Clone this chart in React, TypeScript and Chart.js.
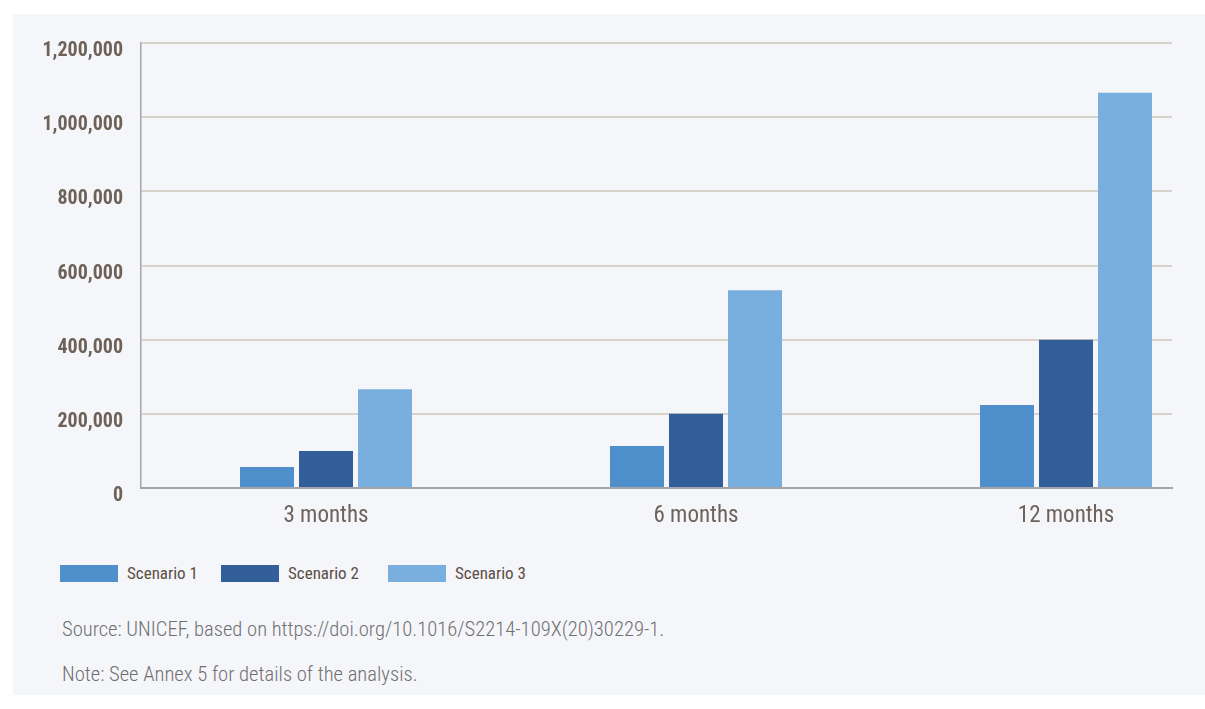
import React, { useEffect, useRef } from "react";
import { Chart, registerables } from "chart.js";

Chart.register(...registerables);

const categories = ["3 months", "6 months", "12 months"];
const seriesNames = ["Scenario 1", "Scenario 2", "Scenario 3"];
const scenario1 = [56500, 113000, 223500];
const scenario2 = [100000, 200000, 400000];
const scenario3 = [266500, 533000, 1066000];
const seriesColors = ["#4f8fcc", "#325f99", "#79afdf"];
const yTicks = [0, 200000, 400000, 600000, 800000, 1000000, 1200000];
const sourceText = "Source: UNICEF, based on https://doi.org/10.1016/S2214-109X(20)30229-1.";
const noteText = "Note: See Annex 5 for details of the analysis.";

const FONT = "'Roboto Condensed', Roboto, sans-serif";
const legendItemWidths = [161, 167, 160];

export default function App() {
  const canvasRef = useRef<HTMLCanvasElement | null>(null);

  useEffect(() => {
    const canvas = canvasRef.current;
    if (!canvas) return;
    const seriesValues = [scenario1, scenario2, scenario3];
    const chart = new Chart(canvas, {
      type: "bar",
      data: {
        datasets: seriesValues.map((vals, si) => ({
          label: seriesNames[si],
          data: vals.map((v, i) => ({ x: i, y: v })),
          backgroundColor: seriesColors[si],
          borderWidth: 0,
          categoryPercentage: 0.4784,
          barPercentage: 0.9153,
        })),
      },
      options: {
        responsive: false,
        maintainAspectRatio: false,
        animation: false,
        events: [],
        layout: { padding: { left: 0, right: 33, top: 43, bottom: 12 } },
        plugins: { legend: { display: false }, tooltip: { enabled: false } },
        scales: {
          x: {
            type: "linear",
            offset: false,
            min: -0.5,
            max: -0.5 + 1031 / 370,
            afterBuildTicks: (s: any) => {
              s.ticks = categories.map((_, i) => ({ value: i }));
            },
            afterFit: (s: any) => {
              s.height = 40;
            },
            grid: { display: false, drawTicks: false, offset: false },
            border: { display: true, color: "#a4a4aa", width: 2 },
            ticks: {
              autoSkip: false,
              maxRotation: 0,
              padding: 14,
              color: "#6e625b",
              font: { family: FONT, size: 23 },
              callback: (v: any) => categories[v] ?? "",
            },
          },
          y: {
            min: 0,
            max: 1200000,
            afterBuildTicks: (s: any) => {
              s.ticks = yTicks.map((v) => ({ value: v }));
            },
            afterFit: (s: any) => {
              s.width = 141;
            },
            grid: { color: "#d8d2c8", lineWidth: 2, drawTicks: false },
            border: { display: true, color: "#a4a4aa", width: 1.5 },
            ticks: {
              padding: 18,
              labelOffset: 8,
              color: "#6d6158",
              font: { family: FONT, size: 20, weight: "bold" },
              callback: (v: any) => Number(v).toLocaleString("en-US"),
            },
          },
        },
      },
    } as any);
    return () => chart.destroy();
  }, []);

  return (
    <div
      style={{
        position: "absolute",
        left: 0,
        top: 0,
        width: 1205,
        height: 709,
        background: "#ffffff",
        overflow: "hidden",
        fontFamily: FONT,
      }}
    >
      <div
        style={{
          position: "absolute",
          left: 13,
          top: 14,
          width: 1192,
          height: 681,
          background: "#f5f6fa",
        }}
      />
      <canvas
        ref={canvasRef}
        width={1205}
        height={540}
        style={{ position: "absolute", left: 0, top: 0, width: 1205, height: 540 }}
      />
      <div
        style={{
          position: "absolute",
          left: 60,
          top: 565,
          display: "flex",
          alignItems: "center",
          height: 17,
        }}
      >
        {seriesNames.map((name, i) => (
          <div
            key={name}
            style={{ display: "flex", alignItems: "center", width: legendItemWidths[i] }}
          >
            <div style={{ width: 58, height: 17, background: seriesColors[i], marginRight: 9 }} />
            <span style={{ fontSize: 17, lineHeight: "17px", color: "#5b4d45", whiteSpace: "nowrap" }}>
              {name}
            </span>
          </div>
        ))}
      </div>
      <div
        style={{
          position: "absolute",
          left: 62,
          top: 617,
          fontSize: 20.6,
          lineHeight: "24px",
          fontWeight: 300,
          color: "#707070",
          whiteSpace: "nowrap",
        }}
      >
        {sourceText}
      </div>
      <div
        style={{
          position: "absolute",
          left: 62,
          top: 662,
          fontSize: 20.6,
          lineHeight: "24px",
          fontWeight: 300,
          color: "#707070",
          whiteSpace: "nowrap",
        }}
      >
        {noteText}
      </div>
    </div>
  );
}
